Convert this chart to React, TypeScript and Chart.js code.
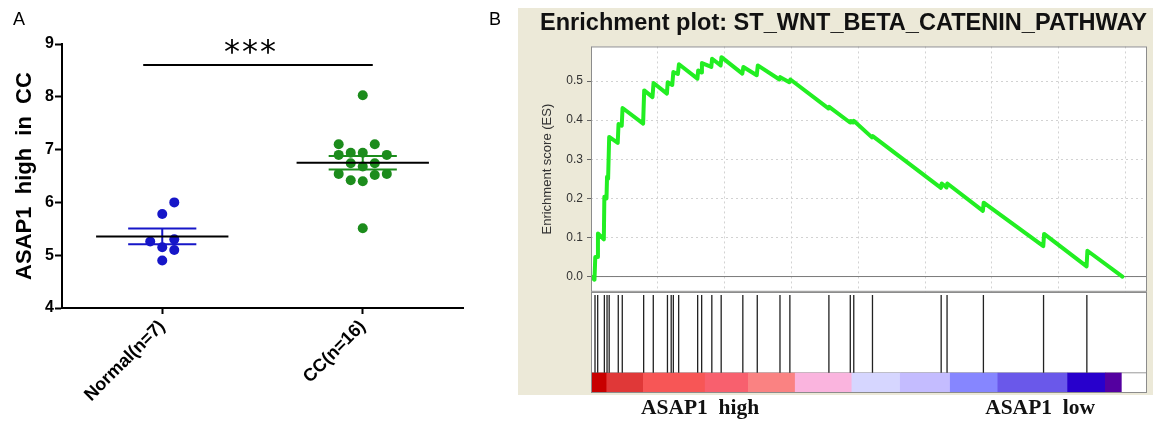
import React, { useEffect, useRef } from "react";
import { Chart, registerables } from "chart.js";

Chart.register(...registerables);

const SANS = '"Liberation Sans", Arial, Helvetica, sans-serif';
const SERIF = '"Liberation Serif", "Times New Roman", serif';
Chart.defaults.font.family = SANS;

// ---------------- Panel A data ----------------
const categories = ["Normal(n=7)", "CC(n=16)"];
const normalValues = [6.0, 5.78, 5.26, 5.15, 5.3, 5.1, 4.9];
const normalOffsets = [0.06, 0, -0.06, 0, 0.06, 0.06, 0];
const ccValues = [8.03, 7.1, 7.1, 6.94, 6.94, 6.9, 6.9, 6.74, 6.74, 6.68, 6.54, 6.52, 6.54, 6.42, 6.4, 5.51];
const ccOffsets = [0, -0.12, 0.06, -0.06, 0, -0.12, 0.12, -0.06, 0.06, 0, -0.12, 0.06, 0.12, -0.06, 0, 0];
const yTicksA = [4, 5, 6, 7, 8, 9];
const significanceY = 8.6;
const significanceSpan = [-0.095, 1.05];
const significanceText = "***";

// ---------------- Panel B data ----------------
const esRank = [0, 130, 160, 230, 260, 480, 500, 580, 600, 640, 680, 1000, 1030, 1150, 1180, 1950, 1990, 2300, 2340, 2840, 2870, 3040, 3080, 3250, 3290, 3980, 4010, 4120, 4150, 4500, 4530, 4850, 4880, 5660, 5700, 6200, 6240, 7050, 7080, 7420, 7460, 8880, 8910, 9690, 9720, 9810, 9840, 10510, 10540, 13090, 13120, 13300, 13330, 14660, 14690, 16920, 16950, 18540, 18570, 19880];
const esScore = [0, -0.008, 0.05, 0.05, 0.11, 0.095, 0.204, 0.2, 0.255, 0.25, 0.357, 0.342, 0.39, 0.386, 0.431, 0.391, 0.476, 0.459, 0.495, 0.468, 0.497, 0.49, 0.523, 0.518, 0.543, 0.506, 0.527, 0.522, 0.546, 0.536, 0.557, 0.54, 0.561, 0.519, 0.536, 0.515, 0.54, 0.504, 0.51, 0.497, 0.504, 0.43, 0.434, 0.394, 0.398, 0.394, 0.398, 0.356, 0.359, 0.227, 0.238, 0.228, 0.238, 0.168, 0.189, 0.078, 0.109, 0.026, 0.066, 0];
const hitRanks = [150, 250, 500, 600, 680, 1020, 1170, 1970, 2330, 2860, 3000, 3080, 3280, 3990, 4140, 4520, 4870, 5680, 6220, 7070, 7440, 8900, 9700, 9830, 10530, 13100, 13320, 14680, 16930, 18550];
const rankMax = 20800;
const rankGrid = [0, 2500, 5000, 7500, 10000, 12500, 15000, 17500, 20000];
const esTicks = [0, 0.1, 0.2, 0.3, 0.4, 0.5];
const esMin = -0.039;
const esMax = 0.5885;
const colorBarEdges = [0, 590, 1960, 4270, 5890, 7640, 9760, 11570, 13440, 15220, 17830, 19240, 19840];
const colorBarColors = ["#c80000", "#e03838", "#f75656", "#f8606e", "#fa8282", "#fab4de", "#d6d6ff", "#c4bcff", "#8686ff", "#6a58ea", "#2800cc", "#5400a0"];
const phenotypeLabels = ["ASAP1  high", "ASAP1  low"];
const phenotypeLabelRanks = [4080, 16800];
const panelTitle = "Enrichment plot: ST_WNT_BETA_CATENIN_PATHWAY";

const BLUE = "#1616c8";
const GREEN = "#1c8c1c";
const ES_GREEN = "#22ee22";

const mean = (a: number[]) => a.reduce((s, v) => s + v, 0) / a.length;
const sem = (a: number[]) => {
  const m = mean(a);
  const v = a.reduce((s, x) => s + (x - m) * (x - m), 0) / (a.length - 1);
  return Math.sqrt(v / a.length);
};

const framePlugin = {
  id: "frame",
  beforeDraw(chart: any, _args: any, opts: any) {
    const { ctx, chartArea } = chart;
    if (!chartArea) return;
    ctx.save();
    ctx.fillStyle = opts.fill || "#fff";
    ctx.fillRect(chartArea.left, chartArea.top, chartArea.right - chartArea.left, chartArea.bottom - chartArea.top);
    ctx.restore();
  },
  afterDraw(chart: any, _args: any, opts: any) {
    const { ctx, chartArea } = chart;
    if (!chartArea) return;
    ctx.save();
    ctx.strokeStyle = opts.stroke || "#888";
    ctx.lineWidth = 1;
    ctx.strokeRect(chartArea.left + 0.5, chartArea.top + 0.5, chartArea.right - chartArea.left - 1, chartArea.bottom - chartArea.top - 1);
    ctx.restore();
  },
};

function PanelA() {
  const ref = useRef<HTMLCanvasElement | null>(null);
  useEffect(() => {
    if (!ref.current) return;
    const groups = [
      { values: normalValues, offsets: normalOffsets, color: BLUE, pos: 0 },
      { values: ccValues, offsets: ccOffsets, color: GREEN, pos: 1 },
    ];
    const datasets: any[] = [];
    for (const g of groups) {
      const m = mean(g.values);
      const s = sem(g.values);
      datasets.push({
        type: "line",
        data: [{ x: g.pos - 0.33, y: m }, { x: g.pos + 0.33, y: m }],
        borderColor: "#000",
        borderWidth: 2,
        pointRadius: 0,
        order: 1,
      });
      datasets.push({
        type: "line",
        data: [
          { x: g.pos - 0.17, y: m + s },
          { x: g.pos + 0.17, y: m + s },
          { x: g.pos, y: null },
          { x: g.pos - 0.17, y: m - s },
          { x: g.pos + 0.17, y: m - s },
          { x: g.pos, y: null },
          { x: g.pos, y: m - s },
          { x: g.pos, y: m + s },
        ],
        borderColor: g.color,
        borderWidth: 2,
        pointRadius: 0,
        spanGaps: false,
        order: 2,
      });
      datasets.push({
        type: "scatter",
        data: g.values.map((v, i) => ({ x: g.pos + g.offsets[i], y: v })),
        backgroundColor: g.color,
        borderColor: g.color,
        borderWidth: 0,
        pointRadius: 5,
        order: 3,
      });
    }
    datasets.push({
      type: "line",
      data: [
        { x: significanceSpan[0], y: significanceY },
        { x: significanceSpan[1], y: significanceY },
      ],
      borderColor: "#000",
      borderWidth: 2,
      pointRadius: 0,
      order: 0,
    });
    const chart = new Chart(ref.current, {
      type: "scatter",
      data: { datasets },
      options: {
        animation: false,
        responsive: false,
        events: [],
        layout: { padding: { left: 12, top: 44, right: 55, bottom: 0 } },
        plugins: { legend: { display: false }, tooltip: { enabled: false } },
        scales: {
          x: {
            type: "linear",
            min: -0.5,
            max: 1.5,
            afterBuildTicks: (s: any) => {
              s.ticks = categories.map((_, i) => ({ value: i }));
            },
            ticks: {
              callback: (v: any) => categories[Number(v)] ?? "",
              minRotation: 45,
              maxRotation: 45,
              autoSkip: false,
              color: "#000",
              padding: 2,
              font: { size: 18, weight: "bold" },
            },
            grid: { drawOnChartArea: false, drawTicks: true, tickLength: 6, tickWidth: 2, tickColor: "#000" },
            border: { color: "#000", width: 2 },
            afterFit: (s: any) => {
              s.height = 113;
            },
          },
          y: {
            type: "linear",
            min: 4,
            max: 9,
            afterBuildTicks: (s: any) => {
              s.ticks = yTicksA.map((v) => ({ value: v }));
            },
            ticks: { color: "#000", padding: 1, font: { size: 16, weight: "bold" } },
            grid: { drawOnChartArea: false, drawTicks: true, tickLength: 7, tickWidth: 2, tickColor: "#000" },
            border: { color: "#000", width: 2 },
            title: {
              display: true,
              text: "ASAP1  high  in  CC",
              color: "#000",
              font: { size: 22, weight: "bold" },
              padding: { top: 0, bottom: 0 },
            },
            afterFit: (s: any) => {
              s.width = 50;
            },
          },
        },
      } as any,
    });
    return () => chart.destroy();
  }, []);
  return (
    <canvas
      ref={ref}
      width={518}
      height={421}
      style={{ position: "absolute", left: 0, top: 0, width: 518, height: 421 }}
    />
  );
}

function PanelBEnrichment() {
  const ref = useRef<HTMLCanvasElement | null>(null);
  useEffect(() => {
    if (!ref.current) return;
    const chart = new Chart(ref.current, {
      type: "line",
      data: {
        datasets: [
          {
            data: [{ x: 0, y: 0 }, { x: rankMax, y: 0 }],
            borderColor: "#7a7a7a",
            borderWidth: 1,
            pointRadius: 0,
            order: 2,
          },
          {
            data: esRank.map((r, i) => ({ x: r, y: esScore[i] })),
            borderColor: ES_GREEN,
            borderWidth: 4,
            pointRadius: 0,
            borderJoinStyle: "round",
            borderCapStyle: "round",
            order: 1,
          },
        ],
      },
      plugins: [framePlugin],
      options: {
        animation: false,
        responsive: false,
        events: [],
        layout: { padding: { left: 22, right: 6, top: 0, bottom: 0 } },
        plugins: {
          legend: { display: false },
          tooltip: { enabled: false },
          title: {
            display: true,
            text: panelTitle,
            color: "#111",
            font: { size: 23.7, weight: "bold" },
            padding: { top: 1, bottom: 9 },
          },
          frame: { fill: "#fff", stroke: "#8c8c8c" },
        },
        scales: {
          x: {
            type: "linear",
            min: 0,
            max: rankMax,
            offset: false,
            afterBuildTicks: (s: any) => {
              s.ticks = rankGrid.map((v) => ({ value: v }));
            },
            ticks: { display: false },
            grid: { color: "#d2d2d2", drawTicks: false, lineWidth: 1 },
            border: { display: false, dash: [2, 3] },
            afterFit: (s: any) => {
              s.height = 0;
            },
          },
          y: {
            type: "linear",
            min: esMin,
            max: esMax,
            offset: false,
            afterBuildTicks: (s: any) => {
              s.ticks = esTicks.map((v) => ({ value: v }));
            },
            ticks: {
              callback: (v: any) => Number(v).toFixed(1),
              color: "#333",
              padding: 4,
              font: { size: 12 },
            },
            grid: { color: "#d2d2d2", drawTicks: true, tickLength: 4, tickColor: "#666", tickWidth: 1 },
            border: { display: false, dash: [2, 3] },
            title: {
              display: true,
              text: "Enrichment score (ES)",
              color: "#333",
              font: { size: 13 },
              padding: { top: 0, bottom: 0 },
            },
            afterFit: (s: any) => {
              s.width = 51;
            },
          },
        },
      } as any,
    });
    return () => chart.destroy();
  }, []);
  return (
    <canvas
      ref={ref}
      width={635}
      height={295}
      style={{ position: "absolute", left: 518, top: 8, width: 635, height: 295 }}
    />
  );
}

function PanelBHits() {
  const ref = useRef<HTMLCanvasElement | null>(null);
  useEffect(() => {
    if (!ref.current) return;
    const hitData: any[] = [];
    hitRanks.forEach((r) => {
      hitData.push({ x: r, y: 0.2 }, { x: r, y: 0.97 }, { x: r, y: null });
    });
    const bars = colorBarColors.map((_, i) => ({ x: [colorBarEdges[i], colorBarEdges[i + 1]], y: 0.099 }));
    const chart = new Chart(ref.current, {
      type: "line",
      data: {
        datasets: [
          {
            type: "line",
            data: hitData,
            borderColor: "#222",
            borderWidth: 1.3,
            pointRadius: 0,
            spanGaps: false,
            order: 1,
          },
          {
            type: "line",
            data: [{ x: 0, y: 0.2 }, { x: rankMax, y: 0.2 }],
            borderColor: "#9a9a9a",
            borderWidth: 1,
            pointRadius: 0,
            order: 3,
          },
          {
            type: "bar",
            indexAxis: "y",
            data: bars,
            backgroundColor: colorBarColors,
            borderWidth: 0,
            barThickness: 20,
            grouped: false,
            order: 2,
          },
        ],
      },
      plugins: [framePlugin],
      options: {
        animation: false,
        responsive: false,
        events: [],
        layout: { padding: { left: 73, right: 6, top: 1, bottom: 0 } },
        plugins: {
          legend: { display: false },
          tooltip: { enabled: false },
          frame: { fill: "#fff", stroke: "#8c8c8c" },
        },
        scales: {
          x: {
            type: "linear",
            min: 0,
            max: rankMax,
            offset: false,
            afterBuildTicks: (s: any) => {
              s.ticks = phenotypeLabelRanks.map((v) => ({ value: v }));
            },
            ticks: {
              callback: (_v: any, i: number) => phenotypeLabels[i],
              color: "#111",
              padding: 3,
              autoSkip: false,
              minRotation: 0,
              maxRotation: 0,
              font: { family: SERIF, size: 21.5, weight: "bold" },
            },
            grid: { display: false, drawTicks: false, offset: false },
            border: { display: false },
            afterFit: (s: any) => {
              s.height = 28;
            },
          },
          y: { type: "linear", display: false, min: 0, max: 1, offset: false, grid: { offset: false } },
        },
      } as any,
    });
    return () => chart.destroy();
  }, []);
  return (
    <canvas
      ref={ref}
      width={635}
      height={130}
      style={{ position: "absolute", left: 518, top: 291, width: 635, height: 130 }}
    />
  );
}

export default function App() {
  return (
    <div
      style={{
        position: "absolute",
        left: 0,
        top: 0,
        width: 1153,
        height: 421,
        background: "#fff",
        overflow: "hidden",
        fontFamily: SANS,
        color: "#000",
      }}
    >
      <PanelA />
      <div style={{ position: "absolute", left: 13, top: 10, fontSize: 18, lineHeight: "18px" }}>A</div>
      <div
        style={{
          position: "absolute",
          left: 224,
          top: 35,
          fontSize: 32,
          lineHeight: "32px",
          letterSpacing: 2,
          fontFamily: '"DejaVu Sans", sans-serif',
        }}
      >
        {significanceText}
      </div>
      <div style={{ position: "absolute", left: 518, top: 8, width: 635, height: 387, background: "#ece9d8" }} />
      <div style={{ position: "absolute", left: 489, top: 10, fontSize: 18, lineHeight: "18px" }}>B</div>
      <PanelBEnrichment />
      <PanelBHits />
    </div>
  );
}
